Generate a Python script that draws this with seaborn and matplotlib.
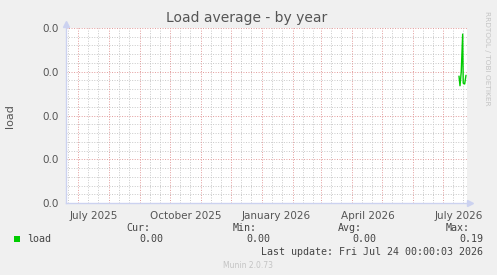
import matplotlib
matplotlib.use("Agg")
import matplotlib.pyplot as plt
import matplotlib.dates as mdates
from matplotlib.patches import Rectangle
import seaborn as sns
import pandas as pd
import numpy as np

# ---- data ----
times = ["2026-07-17 00:00", "2026-07-18 00:00", "2026-07-19 06:00", "2026-07-20 16:00",
         "2026-07-21 05:00", "2026-07-22 16:00", "2026-07-24 00:00"]
load = [0.145, 0.134, 0.150, 0.193, 0.137, 0.136, 0.146]
y_ticks = [0.0, 0.05, 0.10, 0.15, 0.20]
y_tick_labels = ["0.0", "0.0", "0.0", "0.0", "0.0"]
x_label_dates = ["2025-07-17", "2025-10-17", "2026-01-15", "2026-04-17", "2026-07-17"]
x_labels = ["July 2025", "October 2025", "January 2026", "April 2026", "July 2026"]
start, end = "2025-06-19", "2026-07-25"
stats_names = ["Cur:", "Min:", "Avg:", "Max:"]
stats_values = ["0.00", "0.00", "0.00", "0.19"]

df = pd.DataFrame({"time": pd.to_datetime(times), "load": load})

sns.set_style("white")
plt.rcParams["font.family"] = ["DejaVu Sans"]

W, H = 497, 275
fig = plt.figure(figsize=(W / 100, H / 100), dpi=100, facecolor="#F0F0F0")
L, R, T, B = 66, 467, 28, 203
ax = fig.add_axes([L / W, 1 - B / H, (R - L) / W, (B - T) / H])
ax.set_facecolor("white")

sns.lineplot(data=df, x="time", y="load", ax=ax, color="#00CC00", linewidth=1.0)

t0, t1 = pd.Timestamp(start), pd.Timestamp(end)
ax.set_xlim(t0, t1)
ax.set_ylim(0, 0.2)

# grid
dot = (0, (1, 1.6))
month_starts = pd.date_range(t0, t1, freq="MS")
minor_days = [d + pd.Timedelta(days=k) for d in pd.date_range(t0 - pd.offsets.MonthBegin(1), t1, freq="MS") for k in (10, 20)]
minor_days = [d for d in minor_days if t0 < d < t1]
for d in minor_days:
    ax.axvline(d, color="#c8c8c8", lw=0.7, ls=dot, zorder=0)
for yv in np.arange(0.01, 0.2, 0.01):
    if round(yv * 100) % 5:
        ax.axhline(yv, color="#c8c8c8", lw=0.7, ls=dot, zorder=0)
for d in month_starts:
    ax.axvline(d, color="#e29a9a", lw=0.7, ls=dot, zorder=0.5)
for yv in y_ticks:
    ax.axhline(yv, color="#e29a9a", lw=0.7, ls=dot, zorder=0.5)

ax.set_yticks(y_ticks)
ax.set_yticklabels(y_tick_labels)
ax.set_xticks(month_starts)
ax.set_xticklabels([])
ax.set_xticks(minor_days, minor=True)
ax.tick_params(axis="x", which="major", length=2, color="#e29a9a", width=0.8)
ax.tick_params(axis="x", which="minor", length=2, color="#c8c8c8", width=0.8)
ax.tick_params(axis="y", length=2, color="#e29a9a", labelsize=7.5, labelcolor="#555555", pad=3)
for xd, lab in zip(pd.to_datetime(x_label_dates), x_labels):
    ax.text(xd, -0.045, lab, transform=ax.get_xaxis_transform(), ha="center", va="top",
            fontsize=7.5, color="#555555")

ax.set_xlabel("")
ax.set_ylabel("")
for s in ["top", "right"]:
    ax.spines[s].set_visible(False)
for s in ["left", "bottom"]:
    ax.spines[s].set_color("#ccd2f0")
    ax.spines[s].set_linewidth(1)
ax.plot([0], [1.025], marker="^", color="#ccd2f0", markersize=4, transform=ax.transAxes, clip_on=False)
ax.plot([1.008], [0], marker=">", color="#ccd2f0", markersize=4, transform=ax.transAxes, clip_on=False)

def fx(px):
    return px / W

def fy(py):
    return 1 - py / H

fig.text(fx(247), fy(18), "Load average - by year", ha="center", va="center", fontsize=10, color="#555555")
fig.text(fx(10), fy(116), "load", ha="center", va="center", rotation=90, fontsize=8, color="#555555")
fig.text(fx(487), fy(58), "RRDTOOL / TOBI OETIKER", ha="center", va="center", rotation=270,
         fontsize=5.3, color="#c4c4c4")

mono = "DejaVu Sans Mono"
fs = 7.2
fig.patches.append(Rectangle((fx(14), fy(242)), 6 / W, 6 / H, transform=fig.transFigure,
                             facecolor="#00CC00", edgecolor="none"))
fig.text(fx(27), fy(239), "load", ha="left", va="center", fontsize=fs, family=mono, color="#444444")
head_x = [150, 257, 362, 470]
val_x = [163, 270, 376, 483]
for hx, vx, n, v in zip(head_x, val_x, stats_names, stats_values):
    fig.text(fx(hx), fy(228), n, ha="right", va="center", fontsize=fs, family=mono, color="#444444")
    fig.text(fx(vx), fy(239), v, ha="right", va="center", fontsize=fs, family=mono, color="#444444")
fig.text(fx(483), fy(252), "Last update: Fri Jul 24 00:00:03 2026", ha="right", va="center",
         fontsize=fs, family=mono, color="#444444")
fig.text(fx(248), fy(265), "Munin 2.0.73", ha="center", va="center", fontsize=5.5, color="#c4c4c4")

fig.savefig("out.png", dpi=100, facecolor=fig.get_facecolor())
